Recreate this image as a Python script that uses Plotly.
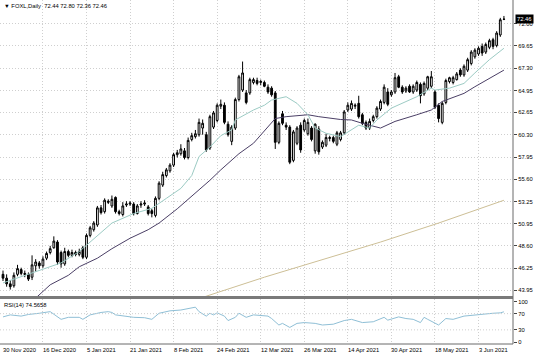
import plotly.graph_objects as go

# ---------------- data ----------------
bars = list(range(139))
opens = [45.6, 45.2, 44.6, 44.4, 45.6, 46.1, 45.7, 45.6, 45.3, 46.5,
         46.8, 46.5, 47.3, 47.9, 48.4, 49.0, 47.9, 46.7, 48.0, 47.6,
         47.9, 47.7, 48.4, 47.4, 49.7, 50.3, 50.8, 52.6, 52.2, 53.3,
         52.8, 53.7, 52.2, 51.9, 52.9, 53.0, 53.0, 52.0, 52.9, 53.0,
         52.7, 52.3, 51.8, 53.6, 55.0, 56.0, 56.5, 57.1, 58.2, 58.3,
         58.6, 57.9, 59.8, 60.1, 60.3, 61.0, 60.3, 58.9, 61.1, 61.8,
         63.3, 63.4, 61.4, 59.6, 61.0, 64.0, 65.0, 64.7, 64.7, 65.8,
         66.0, 65.8, 65.8, 65.3, 65.2, 64.7, 59.5, 62.5, 61.3, 61.1,
         57.6, 59.4, 61.3, 60.8, 60.4, 61.0, 58.6, 60.9, 59.0, 59.2,
         59.9, 60.0, 59.3, 59.8, 60.5, 62.9, 63.0, 63.3, 63.6, 62.4,
         61.6, 61.0, 61.8, 62.2, 63.0, 63.7, 64.8, 64.5, 64.8, 66.4,
         65.3, 64.9, 65.4, 64.8, 65.0, 65.6, 64.6, 65.2, 65.4, 64.8,
         63.4, 61.6, 63.7, 65.9, 65.8, 66.1, 67.1, 66.6, 67.1, 67.8,
         68.5, 68.8, 69.6, 69.0, 69.5, 70.3, 69.7, 70.8, 72.44]
highs = [46.0, 45.6, 45.0, 45.8, 46.6, 46.3, 46.0, 45.8, 47.6, 47.2,
         47.0, 47.5, 48.0, 48.6, 49.6, 49.2, 48.1, 48.4, 48.2, 48.2,
         48.1, 48.3, 48.6, 49.9, 50.7, 51.2, 52.8, 52.9, 53.6, 53.5,
         53.9, 53.8, 52.4, 53.2, 53.3, 53.3, 53.2, 53.0, 53.3, 53.4,
         52.9, 52.5, 53.8, 55.4, 56.4, 56.8, 57.3, 58.4, 58.7, 59.3,
         58.9, 60.0, 60.5, 60.8, 62.0, 61.9, 60.6, 62.4, 62.8, 63.6,
         64.0, 63.7, 61.7, 61.3, 64.2, 66.6, 68.0, 65.0, 66.3, 66.3,
         66.3, 66.1, 66.0, 65.6, 65.4, 64.9, 61.7, 62.8, 61.6, 61.3,
         60.8, 61.2, 61.6, 62.0, 62.0, 61.2, 61.5, 61.2, 59.7, 60.4,
         60.2, 60.2, 60.7, 60.7, 62.9, 63.7, 63.9, 63.6, 64.4, 62.6,
         61.8, 62.0, 62.4, 63.3, 64.0, 65.6, 65.2, 65.0, 66.8, 66.6,
         65.5, 65.4, 65.6, 65.6, 66.0, 65.8, 65.9, 66.5, 67.0, 65.0,
         63.6, 63.8, 66.2, 66.4, 66.5, 66.9, 67.3, 67.7, 68.4, 69.2,
         69.4, 69.6, 69.9, 70.0, 70.4, 70.5, 71.2, 72.6, 72.80]
lows = [44.9, 44.3, 44.0, 44.2, 45.4, 45.5, 45.3, 44.9, 45.0, 45.9,
        46.2, 46.3, 47.1, 47.7, 48.3, 46.6, 46.3, 46.5, 47.4, 47.4,
        47.5, 47.5, 47.2, 47.2, 49.5, 50.1, 50.6, 51.9, 52.0, 53.0,
        52.6, 52.0, 51.8, 51.7, 52.7, 52.8, 51.8, 51.9, 52.6, 52.8,
        51.8, 51.6, 51.6, 53.4, 54.8, 55.8, 56.3, 56.9, 57.9, 58.1,
        57.7, 57.7, 59.6, 59.9, 60.1, 60.3, 58.5, 58.7, 60.9, 61.6,
        63.0, 61.4, 60.1, 59.2, 60.8, 63.8, 64.8, 63.5, 64.5, 65.6,
        65.5, 65.5, 65.3, 64.6, 64.3, 58.8, 59.3, 61.3, 60.8, 57.2,
        57.4, 59.2, 58.4, 60.6, 60.2, 59.6, 58.3, 58.2, 58.8, 59.0,
        59.6, 59.4, 59.1, 59.6, 60.3, 62.7, 62.8, 63.0, 62.0, 61.3,
        60.8, 60.8, 61.6, 62.0, 62.8, 63.5, 63.3, 64.3, 64.6, 65.2,
        64.6, 64.7, 64.7, 64.6, 64.8, 63.6, 64.4, 65.0, 65.2, 63.0,
        61.6, 61.4, 63.5, 65.7, 65.6, 66.0, 66.4, 66.4, 66.9, 67.6,
        68.3, 68.6, 68.6, 68.8, 69.3, 69.3, 69.5, 70.6, 72.36]
closes = [45.2, 44.6, 44.3, 45.5, 46.2, 45.7, 45.6, 45.1, 46.6, 46.9,
          46.5, 47.2, 47.8, 48.3, 49.1, 46.9, 46.7, 48.0, 47.6, 47.9,
          47.7, 48.0, 47.4, 49.7, 50.5, 51.0, 52.6, 52.1, 53.4, 53.2,
          53.5, 52.2, 52.0, 52.8, 53.0, 53.1, 52.0, 52.8, 53.0, 53.1,
          52.0, 52.0, 53.6, 55.2, 56.1, 56.6, 57.1, 58.2, 58.4, 58.8,
          57.9, 59.7, 60.2, 60.4, 61.6, 61.5, 58.7, 62.2, 62.6, 63.4,
          63.5, 61.6, 60.3, 61.1, 64.0, 66.4, 66.8, 63.7, 66.1, 66.1,
          65.7, 65.9, 65.4, 64.8, 64.5, 59.5, 61.5, 61.5, 61.1, 57.4,
          60.6, 61.0, 58.7, 61.8, 61.6, 59.8, 61.4, 58.5, 59.5, 60.0,
          60.0, 59.6, 60.5, 60.5, 62.7, 63.4, 63.6, 63.4, 62.2, 61.5,
          61.0, 61.7, 62.2, 63.1, 63.8, 65.3, 63.5, 64.8, 66.3, 65.3,
          64.8, 65.2, 64.8, 65.4, 65.8, 64.4, 65.7, 66.4, 66.4, 63.2,
          62.0, 63.6, 66.0, 66.3, 66.3, 66.7, 66.6, 67.5, 68.2, 69.0,
          69.2, 69.4, 68.9, 69.8, 70.2, 69.6, 71.0, 72.4, 72.46]

# fast moving average (light teal) – read points
ma_fast_x = [0, 5, 10, 16, 21, 30, 36, 41, 45, 49, 52, 54, 57, 60, 63, 64, 69, 72,
             74, 78, 81, 84, 86, 89, 93, 98, 101, 103, 107, 110, 114, 118, 119,
             123, 127, 130, 134, 138]
ma_fast_y = [44.7, 45.35, 46.05, 46.8, 48.0, 51.0, 52.0, 52.55, 53.6, 54.65, 56.0,
             58.0, 59.0, 60.2, 60.8, 61.85, 62.9, 63.4, 63.95, 64.3, 63.6, 62.4,
             61.0, 60.45, 60.1, 61.3, 61.0, 61.85, 63.1, 63.6, 64.3, 65.2, 65.0,
             65.2, 65.7, 66.8, 68.2, 69.4]

# slow moving average (dark purple) – read points
ma_slow_x = [8, 9, 13, 18, 21, 26, 30, 35, 40, 43, 48, 52, 57, 60, 63, 65, 69, 73,
             75, 78, 84, 87, 93, 96, 99, 104, 108, 114, 118, 121, 127, 130, 138]
ma_slow_y = [42.7, 43.1, 44.5, 45.5, 46.4, 47.3, 48.3, 49.4, 50.3, 51.0, 52.5, 53.8,
             55.5, 56.6, 57.6, 58.3, 59.4, 61.1, 62.0, 62.2, 62.4, 62.2, 61.9,
             61.85, 61.5, 61.0, 61.7, 62.4, 62.9, 63.8, 64.65, 65.35, 67.1]

# long moving average (khaki) – read points
ma_long_x = [53, 56, 72, 87, 104, 120, 129, 138]
ma_long_y = [42.95, 43.3, 45.3, 47.0, 49.0, 51.0, 52.2, 53.4]

# RSI(14) – read points
rsi_x = [0, 2, 5, 7, 10, 13, 16, 18, 21, 22, 24, 27, 29, 30, 31, 33, 36, 39, 41,
         43, 46, 49, 51, 53, 54, 56, 57, 58, 59, 61, 62, 64, 65, 67, 69, 73, 74,
         76, 77, 79, 81, 83, 86, 88, 91, 94, 96, 99, 102, 105, 106, 109, 111,
         113, 115, 116, 117, 120, 122, 124, 127, 131, 135, 137, 138]
rsi_y = [62, 67, 64, 68, 71, 75, 56, 61, 61, 56, 67, 73, 75, 73, 67, 65, 61, 60, 56,
         71, 77, 79, 83, 86, 75, 64, 71, 67, 72, 64, 53, 61, 71, 61, 67, 64, 58,
         42, 46, 36, 46, 48, 46, 42, 44, 53, 56, 48, 50, 61, 54, 62, 58,
         56, 48, 61, 56, 42, 58, 56, 64, 68, 71, 72, 74.57]

price_ticks = [43.95, 46.25, 48.60, 50.95, 53.25, 55.60, 57.95, 60.30, 62.65,
               64.95, 67.30, 69.65, 72.00]
rsi_ticks = [0, 30, 70, 100]
date_pos = [0, 11, 23, 35, 47, 59, 71, 83, 95, 107, 119, 131]
date_labels = ["30 Nov 2020", "16 Dec 2020", "5 Jan 2021", "21 Jan 2021",
               "8 Feb 2021", "24 Feb 2021", "12 Mar 2021", "26 Mar 2021",
               "14 Apr 2021", "30 Apr 2021", "18 May 2021", "3 Jun 2021"]
title_text = "\u25BC FOXL,Daily  72.44 72.80 72.36 72.46"
rsi_text = "RSI(14) 74.5658"
last_price = 72.46

# ---------------- figure ----------------
FONT = "Liberation Sans, Arial, sans-serif"
FS = 5.8
GRID = "#cfcfcf"
DOT = "1px,2px"
xr = [-0.83, 140.5]

fig = go.Figure()
fig.add_trace(go.Scatter(x=ma_long_x, y=ma_long_y, mode="lines",
                         line=dict(color="#cdbf96", width=1), hoverinfo="skip",
                         xaxis="x", yaxis="y"))
fig.add_trace(go.Scatter(x=ma_slow_x, y=ma_slow_y, mode="lines",
                         line=dict(color="#4b3f66", width=1), hoverinfo="skip",
                         xaxis="x", yaxis="y"))
fig.add_trace(go.Scatter(x=ma_fast_x, y=ma_fast_y, mode="lines",
                         line=dict(color="#9ccbc4", width=1), hoverinfo="skip",
                         xaxis="x", yaxis="y"))
fig.add_trace(go.Candlestick(
    x=bars, open=opens, high=highs, low=lows, close=closes,
    increasing=dict(line=dict(color="black", width=1), fillcolor="white"),
    decreasing=dict(line=dict(color="black", width=1), fillcolor="black"),
    whiskerwidth=0, hoverinfo="skip", xaxis="x", yaxis="y"))
fig.add_trace(go.Scatter(x=rsi_x, y=rsi_y, mode="lines",
                         line=dict(color="#8fbfd6", width=1), hoverinfo="skip",
                         xaxis="x2", yaxis="y2"))

annotations = [
    dict(text=title_text, x=0.004, y=1, xref="paper", yref="paper",
         xanchor="left", yanchor="top", showarrow=False, yshift=-1,
         font=dict(family=FONT, size=FS, color="black")),
    dict(text=rsi_text, x=0.004, y=0.1308, xref="paper", yref="paper",
         xanchor="left", yanchor="top", showarrow=False, yshift=-1,
         font=dict(family=FONT, size=FS, color="black")),
    dict(text=f"{last_price:.2f}", x=1, y=last_price, xref="paper", yref="y",
         xanchor="left", yanchor="middle", showarrow=False, xshift=2,
         bgcolor="black", borderpad=1,
         font=dict(family=FONT, size=FS, color="white")),
]
for p, lab in zip(date_pos, date_labels):
    annotations.append(dict(text=lab, x=p, y=0, xref="x2", yref="paper",
                            xanchor="left", yanchor="middle", showarrow=False,
                            yshift=-6, xshift=-2,
                            font=dict(family=FONT, size=FS, color="black")))

shapes = [
    dict(type="rect", xref="paper", yref="paper", x0=0, x1=1, y0=0.1308, y1=0.1395,
         fillcolor="#7a7a7a", line=dict(width=0)),
    dict(type="line", xref="paper", yref="paper", x0=1, x1=1, y0=0, y1=1,
         line=dict(color="#6a6a6a", width=1)),
    dict(type="line", xref="paper", yref="paper", x0=0, x1=1, y0=0, y1=0,
         line=dict(color="#6a6a6a", width=1)),
]
for lv in [30, 70]:
    shapes.append(dict(type="line", xref="paper", yref="y2", x0=0, x1=1, y0=lv, y1=lv,
                       line=dict(color=GRID, width=1, dash=DOT)))

fig.update_layout(
    width=536, height=357,
    margin=dict(l=0, r=23, t=0, b=13),
    paper_bgcolor="white", plot_bgcolor="white",
    showlegend=False,
    font=dict(family=FONT, size=FS, color="black"),
    xaxis=dict(domain=[0, 1], anchor="y", range=xr, rangeslider=dict(visible=False),
               tickvals=date_pos[1:], showticklabels=False, ticks="",
               showgrid=True, gridcolor=GRID, griddash=DOT, gridwidth=1,
               zeroline=False, showline=False, fixedrange=True),
    yaxis=dict(domain=[0.1395, 1], anchor="x", range=[43.32, 74.48], side="right",
               tickvals=price_ticks, ticktext=[f"{v:.2f}" for v in price_ticks],
               ticks="outside", ticklen=3, tickcolor="#444", showgrid=True,
               gridcolor=GRID, griddash=DOT, gridwidth=1, zeroline=False,
               showline=False, automargin=False,
               tickfont=dict(family=FONT, size=FS, color="black")),
    xaxis2=dict(domain=[0, 1], anchor="y2", range=xr, tickvals=date_pos[1:],
                showticklabels=False, ticks="", showgrid=True, gridcolor=GRID,
                griddash=DOT, gridwidth=1, zeroline=False, showline=False),
    yaxis2=dict(domain=[0, 0.1308], anchor="x2", range=[-4.9, 106.2], side="right",
                tickvals=rsi_ticks, ticktext=[str(v) for v in rsi_ticks],
                ticks="outside", ticklen=3, tickcolor="#444", showgrid=False,
                zeroline=False, showline=False, automargin=False,
                tickfont=dict(family=FONT, size=FS, color="black")),
    annotations=annotations,
    shapes=shapes,
)

fig.write_html("out.html", config={"displayModeBar": False},
               post_script="document.body.style.margin='0';document.body.style.padding='0';")
